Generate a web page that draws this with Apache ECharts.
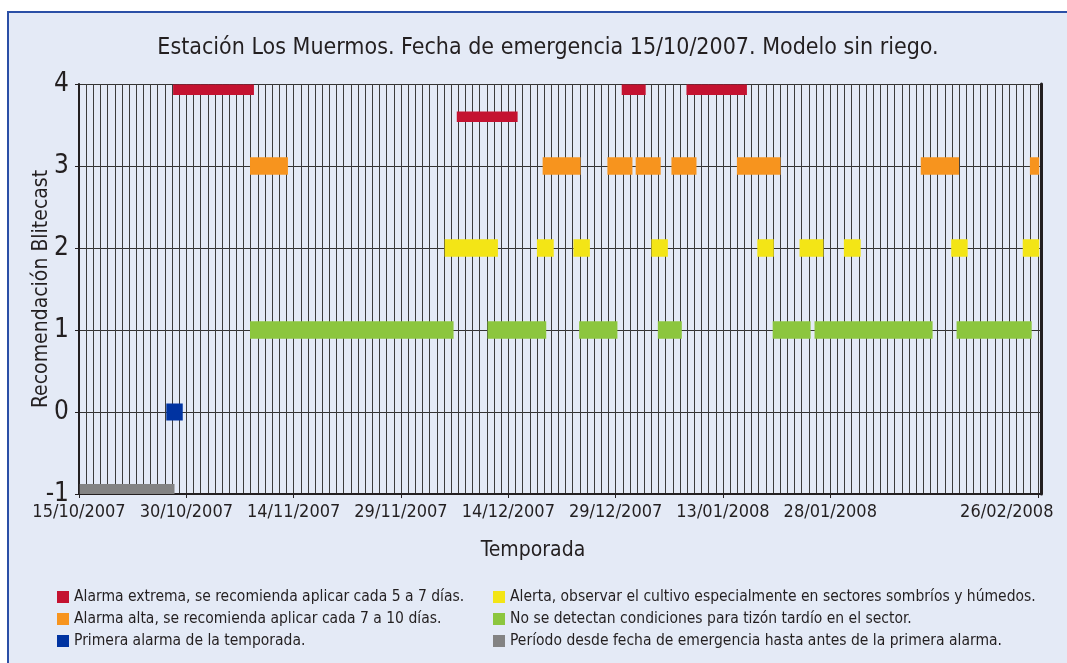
<!DOCTYPE html>
<html>
<head>
<meta charset="utf-8">
<script src="https://cdn.jsdelivr.net/npm/echarts@6/dist/echarts.min.js"></script>
<style>
  html, body { margin: 0; padding: 0; background: #fff; }
  #frame {
    position: absolute; left: 7px; top: 11px; width: 1070px; height: 660px;
    background: #e4eaf6; border-left: 2px solid #2b4fa6; border-top: 2px solid #2b4fa6;
  }
  #chart { position: absolute; left: 0; top: 0; width: 1067px; height: 663px; }
</style>
</head>
<body>
<div id="frame"></div>
<div id="chart"></div>
<script>
// x values are days counted from 15/10/2007 (day 0)
const tickDays = [0, 15, 30, 45, 60, 75, 90, 105, 134]
const tickLabels = ['15/10/2007', '30/10/2007', '14/11/2007', '29/11/2007', '14/12/2007',
  '29/12/2007', '13/01/2008', '28/01/2008', '26/02/2008']

// [start day, end day, level]
const alarmaExtrema = [[13.15, 24.45, 3.93], [52.8, 61.3, 3.6], [75.85, 79.2, 3.93], [84.9, 93.35, 3.93]]
const alarmaAlta = [[23.9, 29.2, 3], [64.8, 70.1, 3], [73.85, 77.35, 3], [77.8, 81.3, 3],
  [82.8, 86.3, 3], [91.95, 98.05, 3], [117.65, 123.0, 3], [132.9, 134.2, 3]]
const alerta = [[51.1, 58.55, 2], [64, 66.35, 2], [69.1, 71.4, 2], [80, 82.3, 2], [94.8, 97.1, 2],
  [100.7, 104.05, 2], [106.9, 109.25, 2], [121.9, 124.2, 2], [131.9, 134.2, 2]]
const sinCondiciones = [[23.9, 52.35, 1], [57.1, 65.3, 1], [69.9, 75.25, 1], [80.9, 84.25, 1],
  [96.95, 102.25, 1], [102.8, 119.3, 1], [122.65, 133.15, 1]]
const primeraAlarma = [[12.2, 14.5, 0]]
const periodoEmergencia = [[0.1, 13.35, -0.94]]

const names = [
  'Alarma extrema, se recomienda aplicar cada 5 a 7 días.',
  'Alarma alta, se recomienda aplicar cada 7 a 10 días.',
  'Primera alarma de la temporada.',
  'Alerta, observar el cultivo especialmente en sectores sombríos y húmedos.',
  'No se detectan condiciones para tizón tardío en el sector.',
  'Período desde fecha de emergencia hasta antes de la primera alarma.'
]

const font = "'Liberation Sans Narrow', 'DejaVu Sans Condensed', 'Roboto', sans-serif"
const textColor = '#231f20'

function barSeries (name, data, color, thick) {
  return {
    name,
    type: 'custom',
    data,
    xAxisIndex: 0,
    itemStyle: { color },
    encode: { x: [0, 1], y: 2 },
    renderItem: (params, api) => {
      const p1 = api.coord([api.value(0), api.value(2)])
      const p2 = api.coord([api.value(1), api.value(2)])
      return {
        type: 'rect',
        shape: { x: p1[0], y: p1[1] - thick / 2, width: p2[0] - p1[0], height: thick },
        style: { fill: api.visual('color') }
      }
    }
  }
}

const legendBase = {
  orient: 'vertical',
  top: 584,
  icon: 'rect',
  itemWidth: 12,
  itemHeight: 12,
  itemGap: 6,
  textStyle: { fontFamily: font, fontSize: 15.5, color: textColor }
}

const chart = echarts.init(document.getElementById('chart'))

const option = {
  backgroundColor: 'transparent',
  animation: false,
  textStyle: { fontFamily: font },
  title: {
    text: 'Estación Los Muermos. Fecha de emergencia 15/10/2007. Modelo sin riego.',
    left: 543,
    textAlign: 'center',
    top: 32,
    textStyle: { fontFamily: font, fontSize: 23, fontWeight: 'normal', color: textColor }
  },
  legend: [
    Object.assign({ data: names.slice(0, 3), left: 52 }, legendBase),
    Object.assign({ data: names.slice(3), left: 488 }, legendBase)
  ],
  grid: {
    left: 79,
    right: 26,
    top: 84,
    bottom: 169
  },
  xAxis: [
    {
      type: 'value',
      min: 0,
      max: 134.45,
      interval: 1,
      name: 'Temporada',
      nameLocation: 'middle',
      nameGap: 46,
      nameMoveOverlap: false,
      nameTextStyle: { fontFamily: font, fontSize: 21, color: textColor, padding: [0, 54, 0, 0] },
      axisLine: { show: true, onZero: false, lineStyle: { color: '#231f20', width: 2 } },
      axisTick: { show: true, length: 4, customValues: tickDays, lineStyle: { color: '#231f20' } },
      axisLabel: {
        customValues: tickDays,
        margin: 9,
        fontFamily: font,
        fontSize: 18,
        color: textColor,
        formatter: (v) => {
          const i = tickDays.indexOf(v)
          if (i < 0) return ''
          if (i === tickDays.length - 1) return '{last|' + tickLabels[i] + '}'
          return tickLabels[i]
        },
        rich: {
          last: { fontFamily: font, fontSize: 18, color: textColor, padding: [0, 62, 0, 0] }
        }
      },
      splitLine: { show: false }
    },
    {
      // daily grid lines
      type: 'value',
      min: 0,
      max: 134.45,
      interval: 1,
      position: 'bottom',
      axisLine: { show: false, onZero: false },
      axisTick: { show: false },
      axisLabel: { show: false },
      splitLine: { show: true, lineStyle: { color: '#3c3c3c', width: 1 } }
    }
  ],
  yAxis: [
    {
      type: 'value',
      min: -1,
      max: 4,
      interval: 1,
      name: 'Recomendación Blitecast',
      nameLocation: 'middle',
      nameGap: 27,
      nameMoveOverlap: false,
      nameTextStyle: { fontFamily: font, fontSize: 21, color: textColor },
      axisLine: { show: true, onZero: false, lineStyle: { color: '#231f20', width: 2 } },
      axisTick: { show: true, length: 4, lineStyle: { color: '#231f20' } },
      axisLabel: { margin: 10, fontFamily: font, fontSize: 26, color: textColor },
      splitLine: { show: true, lineStyle: { color: '#333', width: 1 } }
    },
    {
      type: 'value',
      min: -1,
      max: 4,
      interval: 1,
      position: 'right',
      axisLine: { show: true, onZero: false, lineStyle: { color: '#231f20', width: 3 } },
      axisTick: { show: false },
      axisLabel: { show: false },
      splitLine: { show: false }
    }
  ],
  series: [
    barSeries(names[5], periodoEmergencia, '#838383', 10),
    barSeries(names[4], sinCondiciones, '#8cc63e', 17.5),
    barSeries(names[3], alerta, '#f3e516', 17.5),
    barSeries(names[1], alarmaAlta, '#f7941e', 17.5),
    barSeries(names[0], alarmaExtrema, '#c41230', 10.5),
    barSeries(names[2], primeraAlarma, '#0033a1', 17)
  ]
}

chart.setOption(option)
</script>
</body>
</html>
